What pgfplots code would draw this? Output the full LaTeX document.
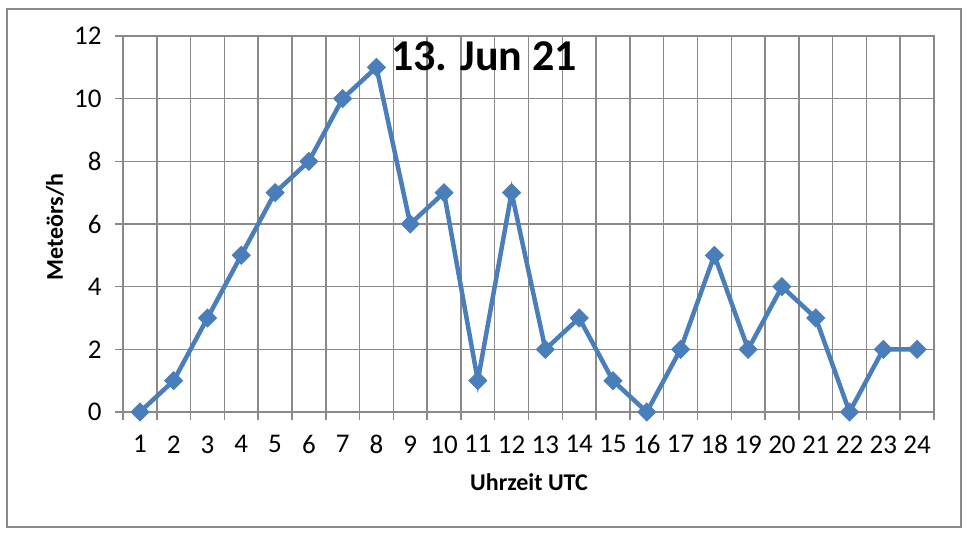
\documentclass[border=0pt]{standalone}
\usepackage{fontspec}
\setmainfont{Carlito}
\usepackage{pgfplots}
\pgfplotsset{compat=1.18}
\definecolor{gridc}{RGB}{138,138,138}
\definecolor{lineblue}{RGB}{74,126,187}
\begin{document}
\begin{tikzpicture}
\path[use as bounding box] (0,0) rectangle (970pt,534pt);
\draw[gridc, line width=1.5pt] (7pt,7pt) rectangle (961pt,525pt);
\begin{axis}[
 at={(123pt,122pt)}, anchor=south west,
 scale only axis, width=811pt, height=376pt,
 xmin=0.5, xmax=24.5, ymin=0, ymax=12,
 xtick={0.5,1.5,...,24.5}, xticklabels={},
 extra x ticks={1,2,...,24},
 extra x tick labels={1,2,3,4,5,6,7,8,9,10,11,12,13,14,15,16,17,18,19,20,21,22,23,24},
 extra x tick style={major tick length=0pt, grid=none,
   xticklabel style={yshift=-20pt}},
 ytick={0,2,...,12},
 yticklabel style={xshift=-10pt},
 grid=major,
 major grid style={gridc, line width=1.5pt},
 axis line style={gridc, line width=1.5pt},
 tick style={gridc, line width=1.5pt},
 major tick length=8pt,
 tick align=outside,
 tick pos=left,
 ticklabel style={font=\fontsize{27}{30}\selectfont, text=black},
 /pgf/number format/assume math mode=true,
]
\addplot[lineblue, line width=4.5pt, mark=square*, mark size=6.3pt,
  mark options={rotate=45, solid, line width=1pt, fill=lineblue}]
 coordinates {(1,0)(2,1)(3,3)(4,5)(5,7)(6,8)(7,10)(8,11)(9,6)(10,7)(11,1)(12,7)
 (13,2)(14,3)(15,1)(16,0)(17,2)(18,5)(19,2)(20,4)(21,3)(22,0)(23,2)(24,2)};
\end{axis}
\node[font=\bfseries\fontsize{44}{50}\selectfont] at (484pt,478pt) {13. Jun 21};
\node[font=\bfseries\fontsize{24}{28}\selectfont, rotate=90] at (55pt,307pt) {Meteörs/h};
\node[font=\bfseries\fontsize{24}{28}\selectfont] at (529pt,52pt) {Uhrzeit UTC};
\end{tikzpicture}
\end{document}
